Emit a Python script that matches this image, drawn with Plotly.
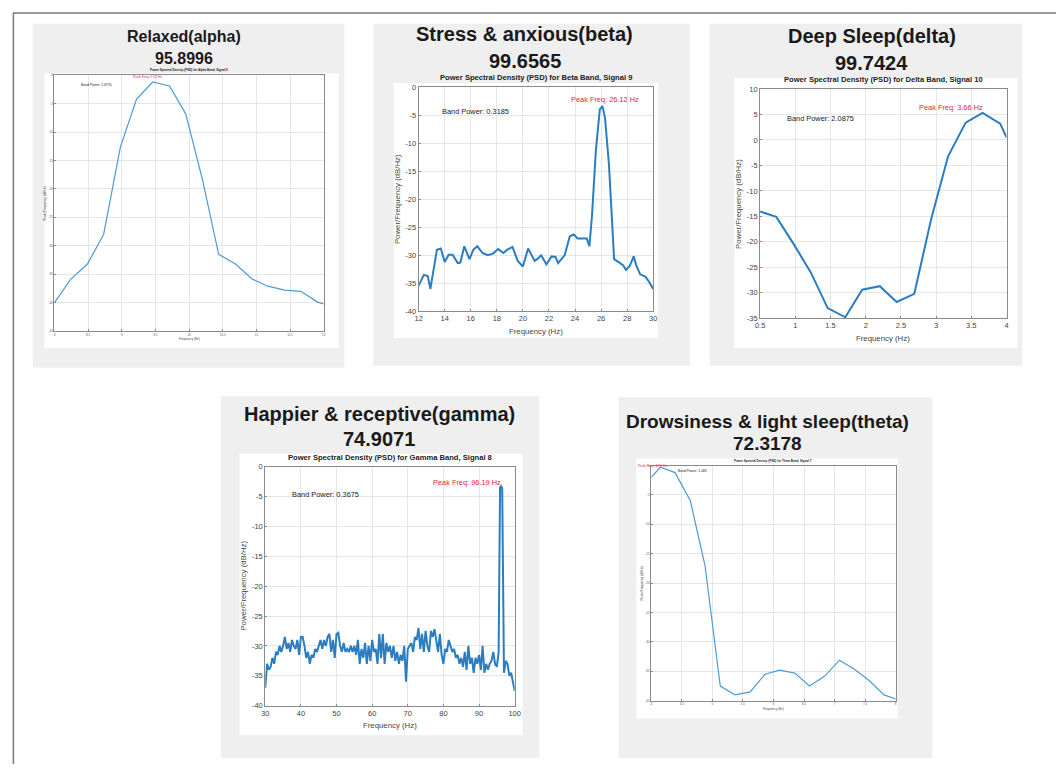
import plotly.graph_objects as go

# ---------------- data ----------------
alpha_freq = [8.0, 8.24, 8.49, 8.73, 8.98, 9.22, 9.46, 9.71, 9.95, 10.20, 10.44, 10.69, 10.93, 11.17, 11.42, 11.66, 11.91, 12.0]
alpha_psd = [-40.0, -35.9, -33.2, -28.0, -12.6, -4.2, -1.2, -1.9, -6.8, -18.4, -31.5, -33.2, -35.8, -37.1, -37.8, -38.0, -39.9, -40.2]

beta_freq = [12.0, 12.4, 12.7, 12.9, 13.4, 13.7, 14.0, 14.3, 14.6, 15.0, 15.2, 15.5, 15.9, 16.2, 16.5, 16.9, 17.3, 17.7,
             18.1, 18.5, 18.8, 19.2, 19.6, 20.0, 20.4, 20.9, 21.1, 21.4, 21.8, 22.2, 22.5, 22.7, 23.2, 23.6, 23.9, 24.2,
             24.6, 24.9, 25.1, 25.3, 25.6, 25.9, 26.1, 26.3, 26.6, 26.8, 27.0, 27.4, 27.7, 27.9, 28.2, 28.5, 28.7, 29.0,
             29.4, 29.7, 30.0]
beta_psd = [-35.4, -33.5, -33.7, -36.0, -29.0, -28.8, -31.2, -29.9, -29.9, -31.4, -31.3, -28.4, -30.7, -29.0, -28.4, -29.6,
            -30.0, -29.7, -28.9, -29.6, -29.0, -28.5, -31.0, -32.0, -28.8, -31.0, -30.7, -30.0, -31.6, -30.2, -30.3, -31.4,
            -30.0, -26.6, -26.3, -27.0, -27.0, -27.0, -28.4, -23.0, -11.3, -4.0, -3.4, -5.5, -13.7, -23.0, -30.7, -31.3,
            -31.8, -32.6, -31.9, -30.2, -31.8, -33.4, -33.8, -34.8, -36.0]

delta_freq = [0.49, 0.73, 0.98, 1.22, 1.46, 1.71, 1.95, 2.20, 2.44, 2.69, 2.93, 3.17, 3.42, 3.66, 3.91, 4.0]
delta_psd = [-14.0, -15.1, -20.5, -26.0, -33.0, -34.8, -29.4, -28.7, -31.8, -30.2, -15.5, -3.2, 3.4, 5.3, 3.2, 0.5]

gamma_freq = [30.0, 30.5, 31.0, 31.5, 32.0, 32.5, 33.0, 33.5, 34.0, 34.5, 35.0, 35.5, 36.0, 36.5, 37.0, 37.5, 38.0, 38.5,
              39.0, 39.5, 40.0, 40.5, 41.0, 41.5, 42.0, 42.5, 43.0, 43.5, 44.0, 44.5, 45.0, 45.5, 46.0, 46.5, 47.0, 47.5,
              48.0, 48.5, 49.0, 49.5, 50.0, 50.5, 51.0, 51.5, 52.0, 52.5, 53.0, 53.5, 54.0, 54.5, 55.0, 55.5, 56.0, 56.5,
              57.0, 57.5, 58.0, 58.5, 59.0, 59.5, 60.0, 60.5, 61.0, 61.5, 62.0, 62.5, 63.0, 63.5, 64.0, 64.5, 65.0, 65.5,
              66.0, 66.5, 67.0, 67.5, 68.0, 68.5, 69.0, 69.5, 70.0, 70.5, 71.0, 71.5, 72.0, 72.5, 73.0, 73.5, 74.0, 74.5,
              75.0, 75.5, 76.0, 76.5, 77.0, 77.5, 78.0, 78.5, 79.0, 79.5, 80.0, 80.5, 81.0, 81.5, 82.0, 82.5, 83.0, 83.5,
              84.0, 84.5, 85.0, 85.5, 86.0, 86.5, 87.0, 87.5, 88.0, 88.5, 89.0, 89.5, 90.0, 90.5, 91.0, 91.5, 92.0, 92.5,
              93.0, 93.5, 94.0, 94.5, 95.0, 95.5, 95.9, 96.19, 96.5, 96.8, 97.0, 97.5, 98.0, 98.5, 99.0, 99.5, 100.0]
gamma_psd = [-37.0, -33.0, -34.0, -33.5, -32.0, -33.0, -31.0, -31.5, -30.0, -31.0, -30.0, -28.5, -30.5, -29.5, -31.0, -29.0,
             -30.0, -30.5, -29.0, -31.5, -28.5, -28.5, -30.0, -32.0, -31.0, -33.0, -31.5, -32.0, -30.5, -31.0, -30.0, -29.0,
             -30.5, -29.0, -30.0, -28.5, -28.0, -31.0, -29.0, -32.0, -28.0, -27.8, -30.0, -31.0, -29.5, -31.0, -30.5, -31.0,
             -30.0, -31.0, -30.0, -31.5, -29.0, -33.0, -30.5, -32.0, -29.5, -33.0, -30.0, -32.5, -29.0, -31.0, -30.5, -33.0,
             -28.0, -32.0, -28.0, -33.0, -29.5, -31.0, -30.0, -32.0, -30.0, -32.5, -31.0, -33.0, -31.5, -32.5, -30.0, -36.0,
             -30.5, -30.0, -29.5, -31.0, -28.5, -29.0, -27.0, -30.5, -28.0, -31.0, -27.5, -30.0, -31.0, -27.5, -28.5, -27.2,
             -29.0, -31.0, -28.0, -31.5, -33.0, -30.5, -31.0, -29.0, -30.0, -31.0, -30.5, -32.0, -31.5, -33.0, -32.0, -33.5,
             -31.0, -34.0, -30.0, -33.0, -32.0, -34.5, -32.0, -33.0, -31.5, -34.0, -30.0, -34.5, -33.0, -34.0, -33.0, -32.5,
             -31.0, -33.0, -33.5, -31.0, -3.5, -3.3, -3.6, -30.0, -34.5, -32.5, -33.0, -35.0, -34.5, -36.0, -37.5]

theta_freq = [4.0, 4.15, 4.39, 4.64, 4.88, 5.13, 5.37, 5.62, 5.86, 6.10, 6.35, 6.59, 6.84, 7.08, 7.32, 7.57, 7.81, 8.0]
theta_psd = [-2.0, -0.3, -1.2, -6.0, -17.0, -37.5, -39.0, -38.5, -35.5, -34.8, -35.3, -37.5, -35.8, -33.1, -34.6, -36.6, -39.0, -39.7]

panel_names = ["Relaxed(alpha)", "Stress & anxious(beta)", "Deep Sleep(delta)",
               "Happier & receptive(gamma)", "Drowsiness & light sleep(theta)"]
panel_scores = ["95.8996", "99.6565", "99.7424", "74.9071", "72.3178"]
psd_titles = ["Power Spectral Density (PSD) for Alpha Band, Signal 5",
              "Power Spectral Density (PSD) for Beta Band, Signal 9",
              "Power Spectral Density (PSD) for Delta Band, Signal 10",
              "Power Spectral Density (PSD) for Gamma Band, Signal 8",
              "Power Spectral Density (PSD) for Theta Band, Signal 7"]
band_power_text = ["Band Power: 1.6755", "Band Power: 0.3185", "Band Power: 2.0875", "Band Power: 0.3675", "Band Power: 1.085"]
peak_text = ["Peak Freq: 9.52 Hz", "Peak Freq: 26.12 Hz", "Peak Freq: 3.66 Hz", "Peak Freq: 96.19 Hz", "Peak Freq: 4.15 Hz"]

alpha_xticks = [8, 8.5, 9, 9.5, 10, 10.5, 11, 11.5, 12]
alpha_yticks = [-45, -40, -35, -30, -25, -20, -15, -10, -5, 0]
beta_xticks = [12, 14, 16, 18, 20, 22, 24, 26, 28, 30]
beta_yticks = [-40, -35, -30, -25, -20, -15, -10, -5, 0]
delta_xticks = [0.5, 1, 1.5, 2, 2.5, 3, 3.5, 4]
delta_yticks = [-35, -30, -25, -20, -15, -10, -5, 0, 5, 10]
gamma_xticks = [30, 40, 50, 60, 70, 80, 90, 100]
gamma_yticks = [-40, -35, -30, -25, -20, -15, -10, -5, 0]
theta_xticks = [4, 4.5, 5, 5.5, 6, 6.5, 7, 7.5, 8]
theta_yticks = [-40, -35, -30, -25, -20, -15, -10, -5, 0]

# ---------------- layout helpers ----------------
W, H = 1062, 769
FONT = "Liberation Sans, Arial, sans-serif"


def px(x):
    return x / W


def py(y):
    return 1 - y / H


def lab(v):
    return "%g" % v  # plain hyphen-minus like MATLAB


panels = [
    dict(freq=alpha_freq, psd=alpha_psd, gray=(28, 20, 343, 368), white=(40, 70, 337, 348), ax=(50, 72, 322, 331),
         tx=181, ty=33, sy=55, tsize=16, small=True, xr=[8, 12], yr=[-45, 0], xt=alpha_xticks, yt=alpha_yticks,
         bp=(8.37, -1.8), pk=(9.13, -0.35), pk_px=None),
    dict(freq=beta_freq, psd=beta_psd, gray=(372, 20, 692, 366), white=(393, 80, 660, 338), ax=(418, 84, 655, 311),
         tx=525, ty=30, sy=58, tsize=20, small=False, xr=[12, 30], yr=[-40, 0], xt=beta_xticks, yt=beta_yticks,
         bp=(13.6, -4.3), pk=(23.5, -2.3), pk_px=None),
    dict(freq=delta_freq, psd=delta_psd, gray=(712, 20, 1028, 366), white=(737, 75, 1023, 348), ax=(763, 86, 1012, 318),
         tx=876, ty=32, sy=60, tsize=20, small=False, xr=[0.5, 4], yr=[-35, 10], xt=delta_xticks, yt=delta_yticks,
         bp=(0.86, 4.3), pk=(2.73, 6.4), pk_px=None),
    dict(freq=gamma_freq, psd=gamma_psd, gray=(218, 397, 540, 763), white=(237, 455, 523, 740), ax=(263, 468, 515, 710),
         tx=378, ty=415, sy=440, tsize=20, small=False, xr=[30, 100], yr=[-40, 0], xt=gamma_xticks, yt=gamma_yticks,
         bp=(37, -4.6), pk=(76.5, -2.6), pk_px=None),
    # the theta peak label sits left of the axes box, so it is placed in page coordinates
    dict(freq=theta_freq, psd=theta_psd, gray=(620, 398, 937, 763), white=(638, 460, 902, 723), ax=(653, 467, 900, 705),
         tx=770, ty=422, sy=445, tsize=19, small=True, xr=[4, 8], yr=[-40, 0], xt=theta_xticks, yt=theta_yticks,
         bp=(4.40, -1.0), pk=None, pk_px=(638, 467)),
]

fig = go.Figure()
shapes = [
    dict(type="line", xref="paper", yref="paper", x0=px(8), x1=1, y0=py(9), y1=py(9),
         line=dict(color="#7a7a7a", width=1.5)),
    dict(type="line", xref="paper", yref="paper", x0=px(8.5), x1=px(8.5), y0=py(9), y1=0,
         line=dict(color="#7a7a7a", width=1.5)),
]
annotations = []
layout_axes = {}

for i, p in enumerate(panels):
    n = i + 1
    xa = "x" if n == 1 else "x%d" % n
    ya = "y" if n == 1 else "y%d" % n
    small = p["small"]
    lw = 1.2 if small else 2
    col = "#4d9bd6" if small else "#2a7dc0"
    fig.add_trace(go.Scatter(x=p["freq"], y=p["psd"], mode="lines", xaxis=xa, yaxis=ya,
                             line=dict(color=col, width=lw), showlegend=False, hoverinfo="x+y"))
    gx0, gy0, gx1, gy1 = p["gray"]
    shapes.append(dict(type="rect", xref="paper", yref="paper", x0=px(gx0), x1=px(gx1), y0=py(gy1), y1=py(gy0),
                       fillcolor="#efefef", line=dict(width=0), layer="below"))
    wx0, wy0, wx1, wy1 = p["white"]
    shapes.append(dict(type="rect", xref="paper", yref="paper", x0=px(wx0), x1=px(wx1), y0=py(wy1), y1=py(wy0),
                       fillcolor="#ffffff", line=dict(width=0), layer="below"))
    ax0, ay0, ax1, ay1 = p["ax"]
    tick_size = 3 if small else 7.5
    tcol = "#555555" if small else "#444444"
    xkey = "xaxis" if n == 1 else "xaxis%d" % n
    ykey = "yaxis" if n == 1 else "yaxis%d" % n
    layout_axes[xkey] = dict(domain=[px(ax0), px(ax1)], anchor=ya, range=p["xr"], tickmode="array",
                             tickvals=p["xt"], ticktext=[lab(v) for v in p["xt"]], showgrid=True,
                             gridcolor="#e6e6e6", gridwidth=1, zeroline=False, showline=True,
                             linecolor="#8a8a8a", linewidth=1, mirror=True, ticks="inside", ticklen=2,
                             tickcolor="#8a8a8a", tickfont=dict(family=FONT, size=tick_size, color=tcol),
                             fixedrange=True)
    layout_axes[ykey] = dict(domain=[py(ay1), py(ay0)], anchor=xa, range=p["yr"], tickmode="array",
                             tickvals=p["yt"], ticktext=[lab(v) for v in p["yt"]], showgrid=True,
                             gridcolor="#e6e6e6", gridwidth=1, zeroline=False, showline=True,
                             linecolor="#8a8a8a", linewidth=1, mirror=True, ticks="inside", ticklen=2,
                             tickcolor="#8a8a8a", tickfont=dict(family=FONT, size=tick_size, color=tcol),
                             fixedrange=True)
    # panel titles
    annotations.append(dict(text="<b>%s</b>" % panel_names[i], xref="paper", yref="paper", x=px(p["tx"]),
                            y=py(p["ty"]), xanchor="center", yanchor="middle", showarrow=False,
                            font=dict(family=FONT, size=p["tsize"], color="#1a1a1a")))
    annotations.append(dict(text="<b>%s</b>" % panel_scores[i], xref="paper", yref="paper", x=px(p["tx"]),
                            y=py(p["sy"]), xanchor="center", yanchor="middle", showarrow=False,
                            font=dict(family=FONT, size=p["tsize"], color="#1a1a1a")))
    # PSD titles
    pt_size = 3 if small else 7.6
    annotations.append(dict(text="<b>%s</b>" % psd_titles[i], xref="paper", yref="paper",
                            x=px((ax0 + ax1) / 2), y=py(ay0 - (1 if small else 3)), xanchor="center",
                            yanchor="bottom", showarrow=False,
                            font=dict(family=FONT, size=pt_size, color="#222222")))
    # axis titles
    lab_size = 3 if small else 7.8
    annotations.append(dict(text="Frequency (Hz)", xref="paper", yref="paper", x=px((ax0 + ax1) / 2),
                            y=py(ay1 + (8 if small else 20)), xanchor="center", yanchor="middle",
                            showarrow=False, font=dict(family=FONT, size=lab_size, color="#444444")))
    annotations.append(dict(text="Power/Frequency (dB/Hz)", xref="paper", yref="paper",
                            x=px(ax0 - (9 if small else 22)), y=py((ay0 + ay1) / 2), xanchor="center",
                            yanchor="middle", textangle=-90, showarrow=False,
                            font=dict(family=FONT, size=lab_size, color="#444444")))
    # in-plot text
    txt_size = 3.4 if small else 7.4
    annotations.append(dict(text=band_power_text[i], xref=xa, yref=ya, x=p["bp"][0], y=p["bp"][1],
                            xanchor="left", yanchor="middle", showarrow=False,
                            font=dict(family=FONT, size=txt_size, color="#222222")))
    if p["pk_px"] is None:
        annotations.append(dict(text=peak_text[i], xref=xa, yref=ya, x=p["pk"][0], y=p["pk"][1],
                                xanchor="left", yanchor="middle", showarrow=False,
                                font=dict(family=FONT, size=txt_size, color="#e8233a")))
    else:
        annotations.append(dict(text=peak_text[i], xref="paper", yref="paper", x=px(p["pk_px"][0]),
                                y=py(p["pk_px"][1]), xanchor="left", yanchor="middle", showarrow=False,
                                font=dict(family=FONT, size=txt_size, color="#e8233a")))

fig.update_layout(width=W, height=H, margin=dict(l=0, r=0, t=0, b=0), paper_bgcolor="white",
                  plot_bgcolor="white", shapes=shapes, annotations=annotations, showlegend=False,
                  **layout_axes)

fig.write_html("out.html", config={"displayModeBar": False},
               post_script="document.body.style.margin='0';document.body.style.overflow='hidden';")
